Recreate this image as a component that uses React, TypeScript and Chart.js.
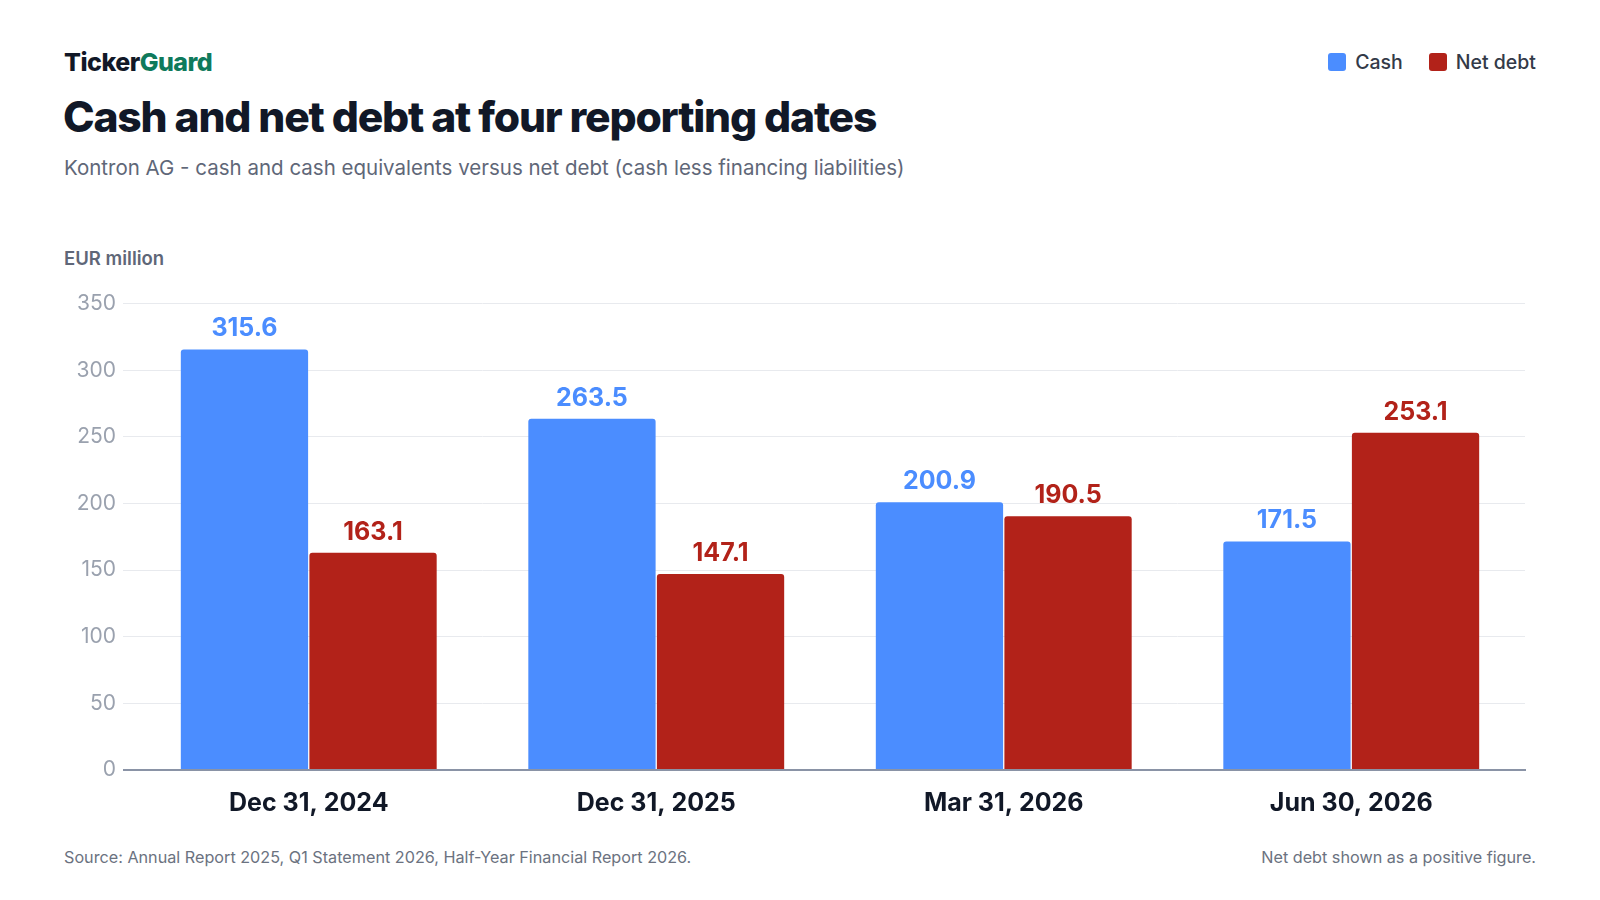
import React, { useEffect, useRef } from "react";
import { Chart, registerables, Plugin } from "chart.js";
Chart.register(...registerables);

const dates = ["Dec 31, 2024", "Dec 31, 2025", "Mar 31, 2026", "Jun 30, 2026"];
const cash = [315.6, 263.5, 200.9, 171.5];
const netDebt = [163.1, 147.1, 190.5, 253.1];
const yTicks = [0, 50, 100, 150, 200, 250, 300, 350];

const CASH = "#4B8DFF";
const DEBT = "#B22219";
const FONT = "Inter, 'Noto Sans', sans-serif";

const valueLabels: Plugin<"bar"> = {
    id: "valueLabels",
    afterDatasetsDraw(chart) {
        const ctx = chart.ctx;
        ctx.save();
        ctx.font = `700 25px ${FONT}`;
        ctx.textAlign = "center";
        ctx.textBaseline = "bottom";
        chart.data.datasets.forEach((ds, i) => {
            const meta = chart.getDatasetMeta(i);
            meta.data.forEach((bar: any, j) => {
                ctx.fillStyle = ds.backgroundColor as string;
                ctx.fillText((ds.data[j] as number).toFixed(1), bar.x, bar.y - 8);
            });
        });
        ctx.restore();
    },
};

export default function App() {
    const canvasRef = useRef<HTMLCanvasElement>(null);

    useEffect(() => {
        const chart = new Chart(canvasRef.current!, {
            type: "bar",
            data: {
                labels: dates,
                datasets: [
                    { label: "Cash", data: cash, backgroundColor: CASH, borderRadius: { topLeft: 3, topRight: 3 }, borderSkipped: "bottom" },
                    { label: "Net debt", data: netDebt, backgroundColor: DEBT, borderRadius: { topLeft: 3, topRight: 3 }, borderSkipped: "bottom" },
                ],
            },
            options: {
                animation: false,
                responsive: true,
                maintainAspectRatio: false,
                layout: { padding: { top: 12, right: 10 } },
                datasets: { bar: { categoryPercentage: 0.74, barPercentage: 0.99 } },
                plugins: { legend: { display: false }, tooltip: { enabled: false } },
                scales: {
                    x: {
                        grid: { display: false },
                        border: { color: "#8A93A6", width: 2 },
                        ticks: { color: "#111827", font: { family: FONT, size: 25, weight: "bold" }, padding: 10 },
                    },
                    y: {
                        min: 0,
                        max: 350,
                        afterBuildTicks: (axis) => { axis.ticks = yTicks.map((v) => ({ value: v })); },
                        afterFit: (axis) => { axis.width = 72; },
                        grid: {
                            color: (c) => (c.tick && c.tick.value === 0 ? "#8A93A6" : "#E8EAEE"),
                            lineWidth: (c) => (c.tick && c.tick.value === 0 ? 2 : 1),
                            drawTicks: true,
                            tickLength: 12,
                        },
                        border: { display: false },
                        ticks: { color: "#9AA1AE", font: { family: FONT, size: 21 }, padding: 7 },
                    },
                },
            },
            plugins: [valueLabels],
        });
        return () => chart.destroy();
    }, []);

    return (
        <div style={{ position: "absolute", left: 0, top: 0, width: 1600, height: 900, background: "#fff", fontFamily: FONT }}>
            <div style={{ position: "absolute", left: 64, top: 47, fontSize: 25, fontWeight: 800, letterSpacing: -0.5 }}>
                <span style={{ color: "#111827" }}>Ticker</span><span style={{ color: "#0F7A5C" }}>Guard</span>
            </div>
            <div style={{ position: "absolute", right: 64, top: 50, display: "flex", gap: 26, fontSize: 19.5, color: "#333a48", fontWeight: 500 }}>
                <span style={{ display: "flex", alignItems: "center", gap: 9 }}><span style={{ width: 18, height: 18, borderRadius: 3, background: CASH }} />Cash</span>
                <span style={{ display: "flex", alignItems: "center", gap: 9 }}><span style={{ width: 18, height: 18, borderRadius: 3, background: DEBT }} />Net debt</span>
            </div>
            <div style={{ position: "absolute", left: 63, top: 91, fontSize: 42.6, fontWeight: 800, color: "#111827", letterSpacing: -1.2 }}>
                Cash and net debt at four reporting dates
            </div>
            <div style={{ position: "absolute", left: 64, top: 155, fontSize: 20.5, color: "#5F6778" }}>
                Kontron AG - cash and cash equivalents versus net debt (cash less financing liabilities)
            </div>
            <div style={{ position: "absolute", left: 64, top: 247, fontSize: 18.5, fontWeight: 600, color: "#5F6778" }}>EUR million</div>
            <div style={{ position: "absolute", left: 63, top: 284, width: 1472, height: 544 }}>
                <canvas ref={canvasRef}></canvas>
            </div>
            <div style={{ position: "absolute", left: 64, top: 847, fontSize: 16.2, color: "#6B7280" }}>
                Source: Annual Report 2025, Q1 Statement 2026, Half-Year Financial Report 2026.
            </div>
            <div style={{ position: "absolute", right: 64, top: 847, fontSize: 16.2, color: "#6B7280" }}>
                Net debt shown as a positive figure.
            </div>
        </div>
    );
}
